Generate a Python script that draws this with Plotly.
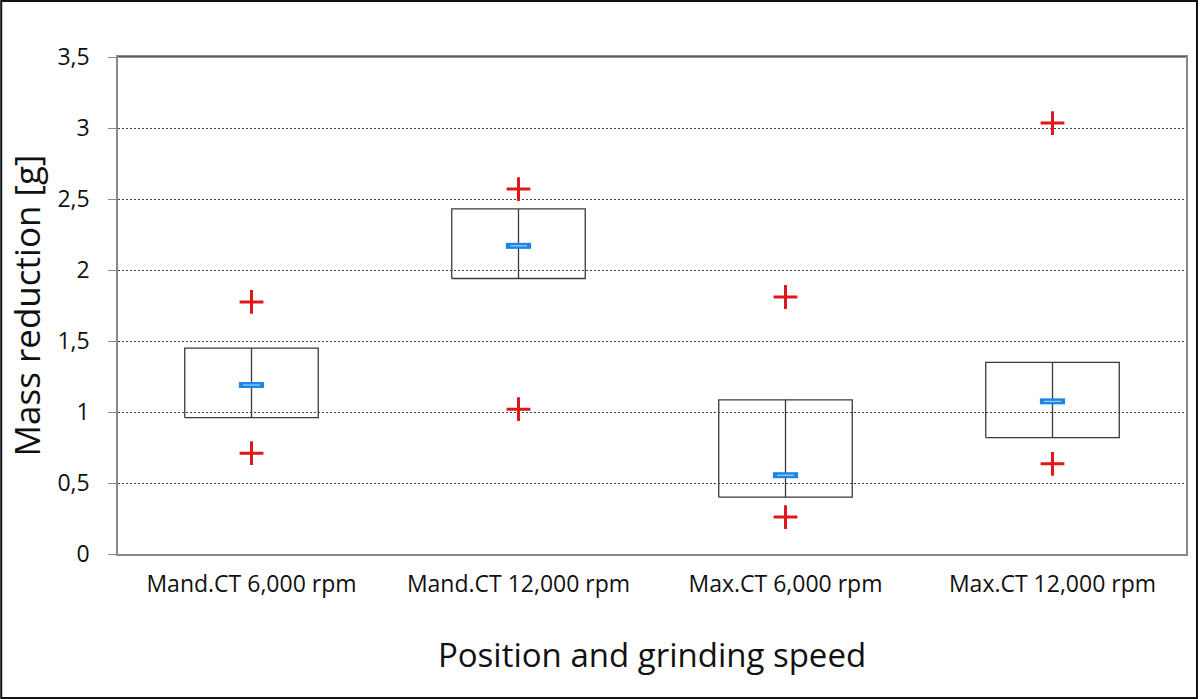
import plotly.graph_objects as go

categories = ["Mand.CT 6,000 rpm", "Mand.CT 12,000 rpm", "Max.CT 6,000 rpm", "Max.CT 12,000 rpm"]
q1 = [0.96, 1.94, 0.40, 0.82]
q3 = [1.45, 2.43, 1.085, 1.35]
median = [1.19, 2.17, 0.555, 1.075]
vmax = [1.775, 2.57, 1.81, 3.035]
vmin = [0.71, 1.02, 0.26, 0.635]

W, H = 1200, 699
L, R, T, B = 118, 12, 57, 145
half = 0.25
box_color = "#3a3a3a"

fig = go.Figure()
xs = list(range(len(categories)))

for i in xs:
    fig.add_trace(go.Scatter(
        x=[i - half, i + half, i + half, i - half, i - half],
        y=[q1[i], q1[i], q3[i], q3[i], q1[i]],
        mode="lines", line=dict(color=box_color, width=1.3),
        hoverinfo="skip", showlegend=False))
    fig.add_trace(go.Scatter(
        x=[i, i], y=[q1[i], q3[i]],
        mode="lines", line=dict(color=box_color, width=1.3),
        hoverinfo="skip", showlegend=False))

fig.add_trace(go.Scatter(
    x=xs, y=median, mode="markers",
    marker=dict(symbol="line-ew", size=18, line=dict(color="#1d86e2", width=6)),
    showlegend=False, name="Median"))
fig.add_trace(go.Scatter(
    x=xs, y=median, mode="markers",
    marker=dict(symbol="line-ew", size=12, line=dict(color="#b8defc", width=1)),
    showlegend=False, hoverinfo="skip"))

fig.add_trace(go.Scatter(
    x=xs + xs, y=vmax + vmin, mode="markers",
    marker=dict(symbol="cross-thin", size=17, line=dict(color="#e0161b", width=3)),
    showlegend=False, name="Min/Max"))

font_family = "'Open Sans', Lato, sans-serif"

fig.update_layout(
    width=W, height=H,
    margin=dict(l=L, r=R, t=T, b=B),
    paper_bgcolor="white", plot_bgcolor="white",
    separators=",.",
    font=dict(family=font_family, color="#111111"),
    xaxis=dict(
        range=[-0.5, 3.5], tickvals=xs, ticktext=categories,
        showgrid=False, zeroline=False, ticks="",
        showline=True, linecolor="#8a8a8a", linewidth=1.5, mirror=True,
        tickfont=dict(size=23, family=font_family, color="#111111"),
        ticklabelstandoff=9,
        title=dict(text="Position and grinding speed", standoff=46,
                   font=dict(size=33, family=font_family, color="#111111")),
    ),
    yaxis=dict(
        range=[0, 3.5], dtick=0.5, tick0=0,
        showgrid=True, gridcolor="#3c3c3c", gridwidth=1, griddash="2px,2px",
        zeroline=False,
        showline=True, linecolor="#8a8a8a", linewidth=1.5, mirror=True,
        ticks="outside", ticklen=8, tickcolor="#8a8a8a", tickwidth=1,
        tickfont=dict(size=23, family=font_family, color="#111111"),
        ticklabelstandoff=14,
        title=dict(text="Mass reduction [g]", standoff=6,
                   font=dict(size=35, family=font_family, color="#111111")),
    ),
)

pw = W - L - R
ph = H - T - B
fig.add_shape(type="line", xref="paper", yref="paper", x0=0, x1=1, y0=1, y1=1,
              line=dict(color="#2a2a2a", width=1))
fig.add_shape(type="rect", xref="paper", yref="paper",
              x0=-(L - 1) / pw, x1=1 + (R - 1) / pw,
              y0=-(B - 1) / ph, y1=1 + (T - 1) / ph,
              line=dict(color="#111111", width=2))

fig.write_html("out.html", config={"displayModeBar": False},
               post_script="document.body.style.margin='0';document.body.style.padding='0';")
